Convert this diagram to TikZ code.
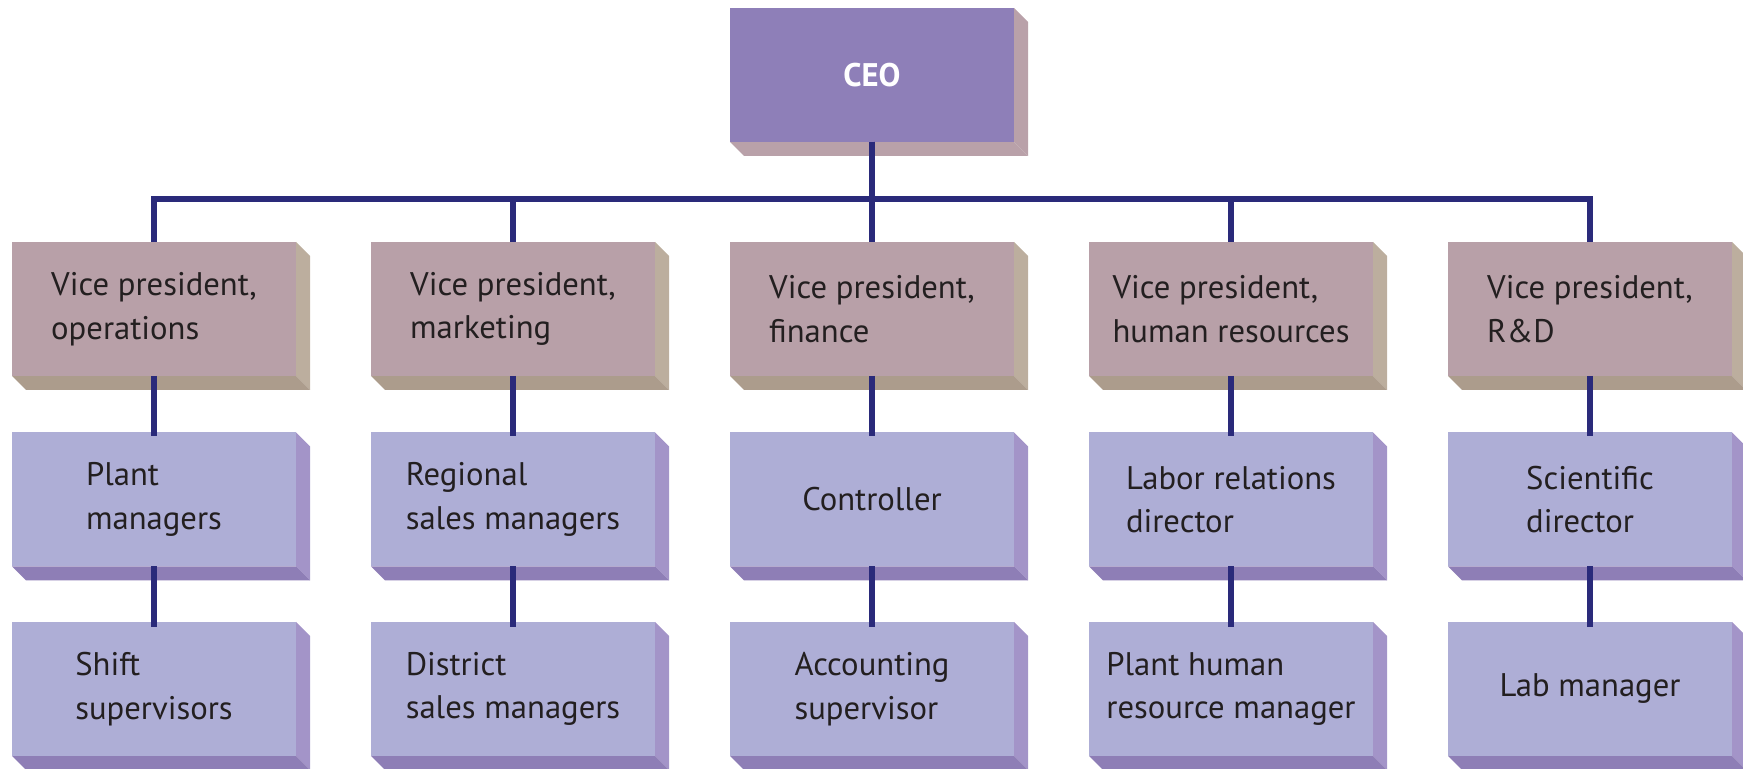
\documentclass[tikz,border=0pt]{standalone}
\usepackage{fontspec}
\setmainfont{PT Sans}
\usetikzlibrary{trees,backgrounds}
\definecolor{ceofront}{HTML}{8E7FB8}
\definecolor{ceoside}{HTML}{B9A1A9}
\definecolor{vpfront}{HTML}{B8A0A8}
\definecolor{vpside}{HTML}{BCAE9E}
\definecolor{vpbottom}{HTML}{AC9C8C}
\definecolor{stafffront}{HTML}{AEAED6}
\definecolor{staffside}{HTML}{A394C8}
\definecolor{staffbottom}{HTML}{8E7EB6}
\definecolor{linkcol}{HTML}{2A2A7A}
\definecolor{inkcol}{HTML}{231F20}
\newcommand{\slab}[3]{%
  \fill[#2] (#1.north east) -- ++(0.14,-0.14) -- ([shift={(0.14,-0.14)}]#1.south east) -- (#1.south east) -- cycle;
  \fill[#3] (#1.south west) -- ++(0.14,-0.14) -- ([shift={(0.14,-0.14)}]#1.south east) -- (#1.south east) -- cycle;}
\tikzset{
  box/.style={rectangle, minimum width=2.84cm, minimum height=1.34cm, inner sep=0pt, outer sep=0pt,
    align=left, text=inkcol, font=\fontsize{9.3}{12.4}\selectfont},
  ceobox/.style={box, fill=ceofront, text=white, font=\fontsize{9.3}{12.4}\selectfont\bfseries},
  vpbox/.style={box, fill=vpfront},
  staffbox/.style={box, fill=stafffront}
}
\begin{document}
\begin{tikzpicture}[
    edge from parent/.style={draw=linkcol, line width=1.8pt},
    level 1/.style={sibling distance=3.59cm, level distance=2.34cm,
      edge from parent path={(\tikzparentnode.south) -- ++(0,-0.57) -| (\tikzchildnode.north)}},
    level 2/.style={level distance=1.905cm},
    level 3/.style={level distance=1.895cm}]
  \useasboundingbox (0,0) rectangle (17.43,-7.69);
  \node[ceobox] (ceo) at (8.72,-0.75) {CEO}
      child {node[vpbox] (vp1) {Vice president,\\operations}
        child {node[staffbox] (ops2) {Plant\\managers}
          child {node[staffbox] (ops3) {Shift\\supervisors}}}}
      child {node[vpbox] (vp2) {Vice president,\\marketing}
        child {node[staffbox] (mkt2) {Regional\\sales managers}
          child {node[staffbox] (mkt3) {District\\sales managers}}}}
      child {node[vpbox] (vp3) {Vice president,\\finance}
        child {node[staffbox] (fin2) {Controller}
          child {node[staffbox] (fin3) {Accounting\\supervisor}}}}
      child {node[vpbox] (vp4) {Vice president,\\human resources}
        child {node[staffbox] (hr2) {Labor relations\\director}
          child {node[staffbox] (hr3) {Plant human\\resource manager}}}}
      child {node[vpbox] (vp5) {Vice president,\\R\&D}
        child {node[staffbox] (rd2) {Scientific\\director}
          child {node[staffbox] (rd3) {Lab manager}}}};
  \begin{scope}[on background layer]
    \slab{ceo}{ceoside}{ceoside}
    \foreach \n in {vp1,vp2,vp3,vp4,vp5}
      {\slab{\n}{vpside}{vpbottom}}
    \foreach \n in {ops2,ops3,mkt2,mkt3,fin2,fin3,hr2,hr3,rd2,rd3}
      {\slab{\n}{staffside}{staffbottom}}
  \end{scope}
\end{tikzpicture}
\end{document}
